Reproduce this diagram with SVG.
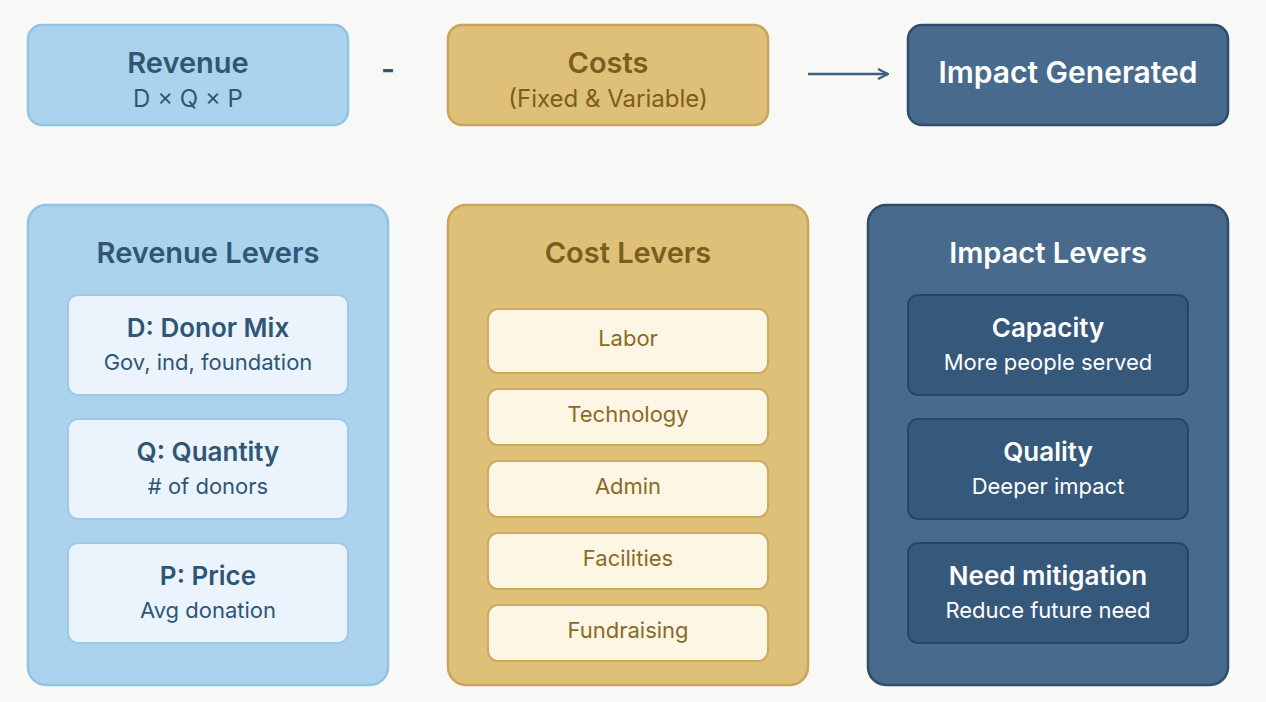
<svg xmlns="http://www.w3.org/2000/svg" width="1266" height="702" viewBox="0 0 1266 702">
<defs>
<style>
text{font-family:Inter,"Open Sans",sans-serif;text-anchor:middle}
.rev{fill:#abd3ed;stroke:#92c3e3;stroke-width:2.5}
.cost{fill:#dfc078;stroke:#caa458;stroke-width:2.5}
.imp{fill:#486b8d;stroke:#2f4d6b;stroke-width:2.5}
.revi{fill:#ebf4fc;stroke:#9fc9e6;stroke-width:2}
.costi{fill:#fdf6e5;stroke:#cdaa5e;stroke-width:2}
.impi{fill:#36587b;stroke:#294566;stroke-width:2}
.tr{fill:#2f5676}.tc{fill:#7b5d20}.tw{fill:#ffffff}
.h{font-size:29px;font-weight:600}
.s{font-size:24px}
.t{font-size:26px;font-weight:600}
.st{font-size:22px}
.ci{font-size:22px;fill:#8a6b25}
</style>
<marker id="ah" viewBox="0 0 12 12" refX="11" refY="6" markerWidth="12" markerHeight="12" markerUnits="userSpaceOnUse" orient="auto"><path d="M1,1 L11,6 L1,11" fill="none" stroke="#3d5f80" stroke-width="2.2"/></marker>
</defs>
<rect width="1266" height="702" fill="#f8f8f6"/>
<g id="revenue"><rect class="rev" x="28" y="25" width="320" height="100" rx="14"/><text class="h tr" x="188" y="73">Revenue</text><text class="s tr" x="188" y="107">D × Q × P</text></g>
<text x="388" y="80" style="font-size:30px;font-weight:600" class="tr">-</text>
<g id="costs"><rect class="cost" x="448" y="25" width="320" height="100" rx="14"/><text class="h tc" x="608" y="73">Costs</text><text class="s tc" x="608" y="107">(Fixed &amp; Variable)</text></g>
<g id="impact"><rect class="imp" x="908" y="25" width="320" height="100" rx="14"/><text class="tw" x="1068" y="83" style="font-size:30px;font-weight:600">Impact Generated</text></g>
<g id="connectors"><line x1="808" y1="74" x2="888" y2="74" stroke="#3d5f80" stroke-width="2.5" marker-end="url(#ah)"/></g>
<g id="revenue-levers"><rect class="rev" x="28" y="205" width="360" height="480" rx="18"/><text class="h tr" x="208" y="263">Revenue Levers</text>
<rect class="revi" x="68" y="295" width="280" height="100" rx="10"/><text class="t tr" x="208" y="337">D: Donor Mix</text><text class="st tr" x="208" y="370">Gov, ind, foundation</text>
<rect class="revi" x="68" y="419" width="280" height="100" rx="10"/><text class="t tr" x="208" y="461">Q: Quantity</text><text class="st tr" x="208" y="494"># of donors</text>
<rect class="revi" x="68" y="543" width="280" height="100" rx="10"/><text class="t tr" x="208" y="585">P: Price</text><text class="st tr" x="208" y="618">Avg donation</text></g>
<g id="cost-levers"><rect class="cost" x="448" y="205" width="360" height="480" rx="18"/><text class="h tc" x="628" y="263">Cost Levers</text>
<rect class="costi" x="488" y="309" width="280" height="64" rx="10"/><text class="ci" x="628" y="346">Labor</text>
<rect class="costi" x="488" y="389" width="280" height="56" rx="10"/><text class="ci" x="628" y="422">Technology</text>
<rect class="costi" x="488" y="461" width="280" height="56" rx="10"/><text class="ci" x="628" y="494">Admin</text>
<rect class="costi" x="488" y="533" width="280" height="56" rx="10"/><text class="ci" x="628" y="566">Facilities</text>
<rect class="costi" x="488" y="605" width="280" height="56" rx="10"/><text class="ci" x="628" y="638">Fundraising</text></g>
<g id="impact-levers"><rect class="imp" x="868" y="205" width="360" height="480" rx="18"/><text class="h tw" x="1048" y="263">Impact Levers</text>
<rect class="impi" x="908" y="295" width="280" height="100" rx="10"/><text class="t tw" x="1048" y="337">Capacity</text><text class="st tw" x="1048" y="370">More people served</text>
<rect class="impi" x="908" y="419" width="280" height="100" rx="10"/><text class="t tw" x="1048" y="461">Quality</text><text class="st tw" x="1048" y="494">Deeper impact</text>
<rect class="impi" x="908" y="543" width="280" height="100" rx="10"/><text class="t tw" x="1048" y="585">Need mitigation</text><text class="st tw" x="1048" y="618">Reduce future need</text></g>
</svg>
